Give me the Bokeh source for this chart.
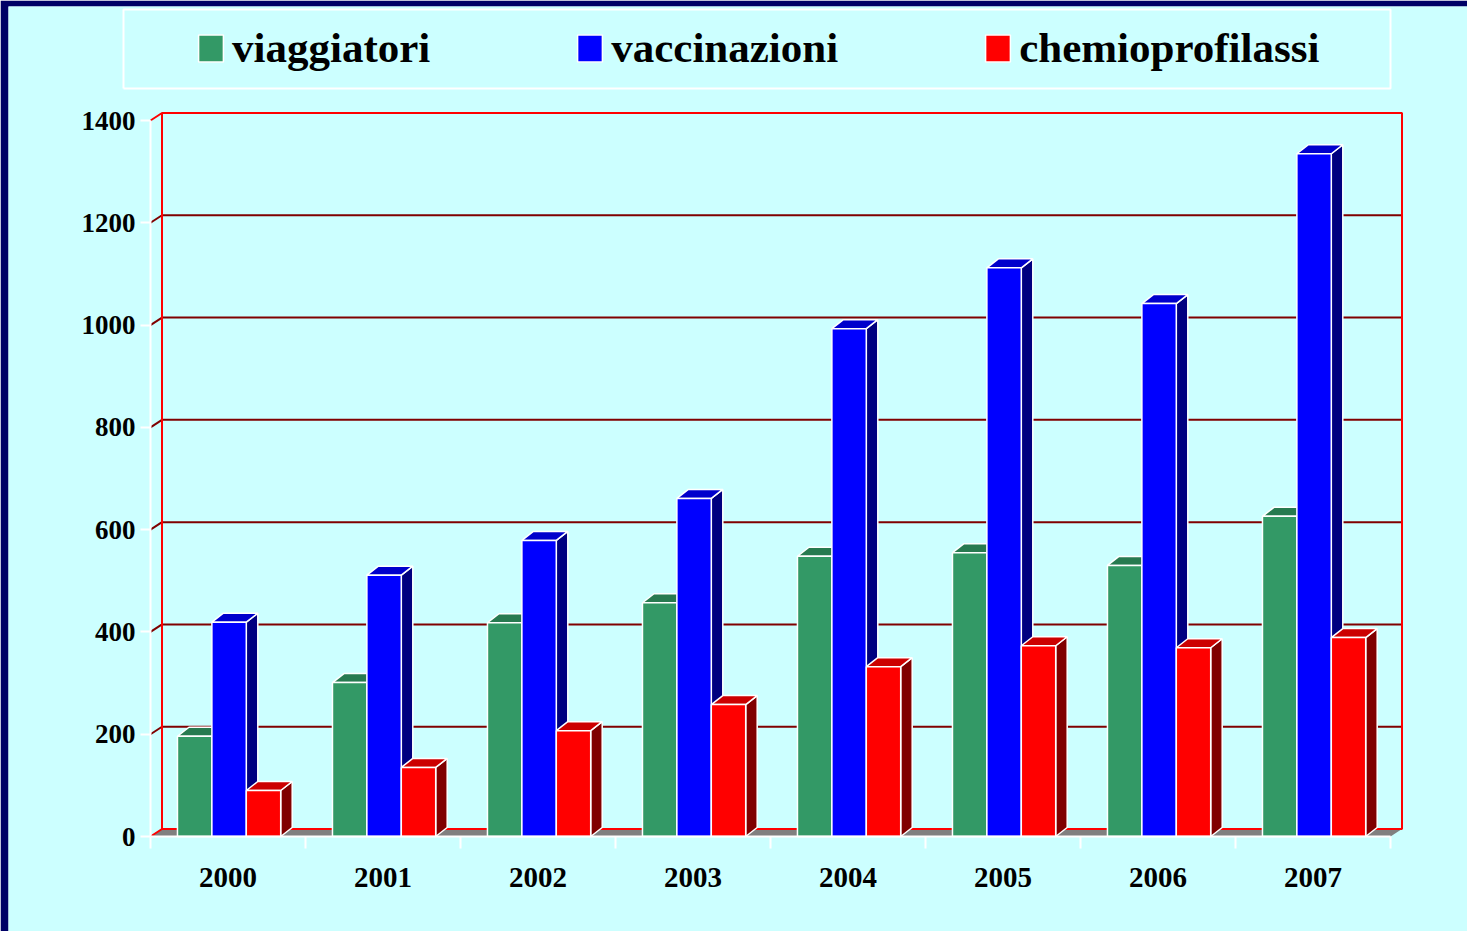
from bokeh.plotting import figure
from bokeh.models import Range1d, FixedTicker, LinearAxis, Legend, LegendItem
from bokeh.embed import file_html
from bokeh.resources import INLINE

# ---------------- data ----------------
years = ["2000", "2001", "2002", "2003", "2004", "2005", "2006", "2007"]
viaggiatori = [196, 301, 418, 457, 548, 555, 530, 626]
vaccinazioni = [419, 511, 579, 661, 993, 1112, 1042, 1335]
chemioprofilassi = [90, 135, 207, 258, 332, 373, 369, 389]
series_names = ["viaggiatori", "vaccinazioni", "chemioprofilassi"]
y_ticks = [0, 200, 400, 600, 800, 1000, 1200, 1400]

# ---------------- geometry / style ----------------
W, H = 1467, 931
FL, FR, FT, FB = 8, 1467, 6, 931        # frame edges (page px)
X0PX, Y0PX = 150, 836                   # pixel of the front axes origin
XPU = 155.0                             # px per category
YPU = 716.0 / 1400.0                    # px per value unit
YMAX = 1400

BG = "#CCFFFF"
NAVY = "#000066"
FONT = "Liberation Serif"

def px_x(px):
    return (px - X0PX) / XPU

def px_y(py):
    return (Y0PX - py) / YPU

# wall depth and bar depth (data units)
DXW, DYW = 11.5 / XPU, 7.5 / YPU
DXB, DYB = 11.5 / XPU, 9.0 / YPU
G0, BW = 0.174, 0.222

fills = [("#339966", "#277A50", "#1D5C3C"),
         ("#0000FF", "#0000CC", "#000080"),
         ("#FF0000", "#CC0000", "#800000")]

p = figure(width=W, height=H,
           x_range=Range1d(px_x(FL), px_x(FR)),
           y_range=Range1d(px_y(FB), px_y(FT)),
           output_backend="svg", toolbar_location=None,
           x_axis_type=None, y_axis_type=None,
           min_border_left=FL, min_border_right=W - FR,
           min_border_top=FT, min_border_bottom=H - FB,
           background_fill_color=BG, border_fill_color=NAVY,
           outline_line_color=None)

ncat = len(years)

# floor
p.patch([0, ncat, ncat + DXW, DXW], [0, 0, DYW, DYW],
        fill_color="#808080", line_color=None)

# back wall gridlines
gx = [[DXW, ncat + DXW] for v in y_ticks[1:-1]]
gy = [[v + DYW, v + DYW] for v in y_ticks[1:-1]]
p.multi_line(gx, gy, line_color="#800000", line_width=2)

# side wall diagonals
sx = [[0, DXW] for v in y_ticks]
sy = [[v, v + DYW] for v in y_ticks]
scol = ["#FF0000" if v in (0, YMAX) else "#800000" for v in y_ticks]
p.multi_line(sx, sy, line_color=scol, line_width=2)

# back wall border
p.line([DXW, DXW, ncat + DXW, ncat + DXW, DXW],
       [DYW, YMAX + DYW, YMAX + DYW, DYW, DYW],
       line_color="#FF0000", line_width=2)

# bars
front_renderers = []
for s, vals in enumerate([viaggiatori, vaccinazioni, chemioprofilassi]):
    fxs, fys, txs, tys, sxs, sys_ = [], [], [], [], [], []
    for i, v in enumerate(vals):
        x0 = i + G0 + s * BW
        x1 = x0 + BW
        fxs.append([x0, x1, x1, x0]); fys.append([0, 0, v, v])
        txs.append([x0, x1, x1 + DXB, x0 + DXB]); tys.append([v, v, v + DYB, v + DYB])
        sxs.append([x1, x1 + DXB, x1 + DXB, x1]); sys_.append([0, DYB, v + DYB, v])
    fc, tc, sc = fills[s]
    p.patches(sxs, sys_, fill_color=sc, line_color="white", line_width=1.5)
    p.patches(txs, tys, fill_color=tc, line_color="white", line_width=1.5)
    r = p.patches(fxs, fys, fill_color=fc, line_color="white", line_width=1.5)
    front_renderers.append(r)

# legend frame
lx0, lx1, ly0, ly1 = px_x(123), px_x(1390), px_y(88), px_y(9)
p.line([lx0, lx1, lx1, lx0, lx0], [ly0, ly0, ly1, ly1, ly0],
       line_color="white", line_width=2)

legend = Legend(items=[LegendItem(label=n, renderers=[r])
                       for n, r in zip(series_names, front_renderers)],
                orientation="horizontal", location=(187, 859),
                spacing=144, padding=0, margin=0,
                glyph_width=31, glyph_height=34, label_standoff=6,
                label_text_font=FONT, label_text_font_style="bold",
                label_text_font_size="43px", label_text_color="black",
                background_fill_alpha=0, border_line_alpha=0)
p.add_layout(legend)

# axes (fixed at the front origin)
yax = LinearAxis(ticker=FixedTicker(ticks=y_ticks, minor_ticks=[]),
                 bounds=(0, YMAX), fixed_location=0,
                 axis_line_color="white", axis_line_width=2,
                 major_tick_line_color="white", major_tick_line_width=2,
                 major_tick_out=10, major_tick_in=0,
                 minor_tick_line_color=None,
                 major_label_standoff=5,
                 major_label_text_font=FONT, major_label_text_font_style="bold",
                 major_label_text_font_size="27px", major_label_text_color="black")
p.add_layout(yax, "left")

xax = LinearAxis(ticker=FixedTicker(ticks=[i + 0.5 for i in range(ncat)],
                                    minor_ticks=list(range(ncat + 1))),
                 bounds=(0, ncat), fixed_location=0,
                 major_label_overrides={i + 0.5: y for i, y in enumerate(years)},
                 axis_line_color="white", axis_line_width=2,
                 major_tick_out=0, major_tick_in=0, major_tick_line_color=None,
                 minor_tick_out=12, minor_tick_in=0,
                 minor_tick_line_color="white", minor_tick_line_width=2,
                 major_label_standoff=19,
                 major_label_text_font=FONT, major_label_text_font_style="bold",
                 major_label_text_font_size="29px", major_label_text_color="black")
p.add_layout(xax, "below")

open("out.html", "w").write(file_html(p, INLINE))
